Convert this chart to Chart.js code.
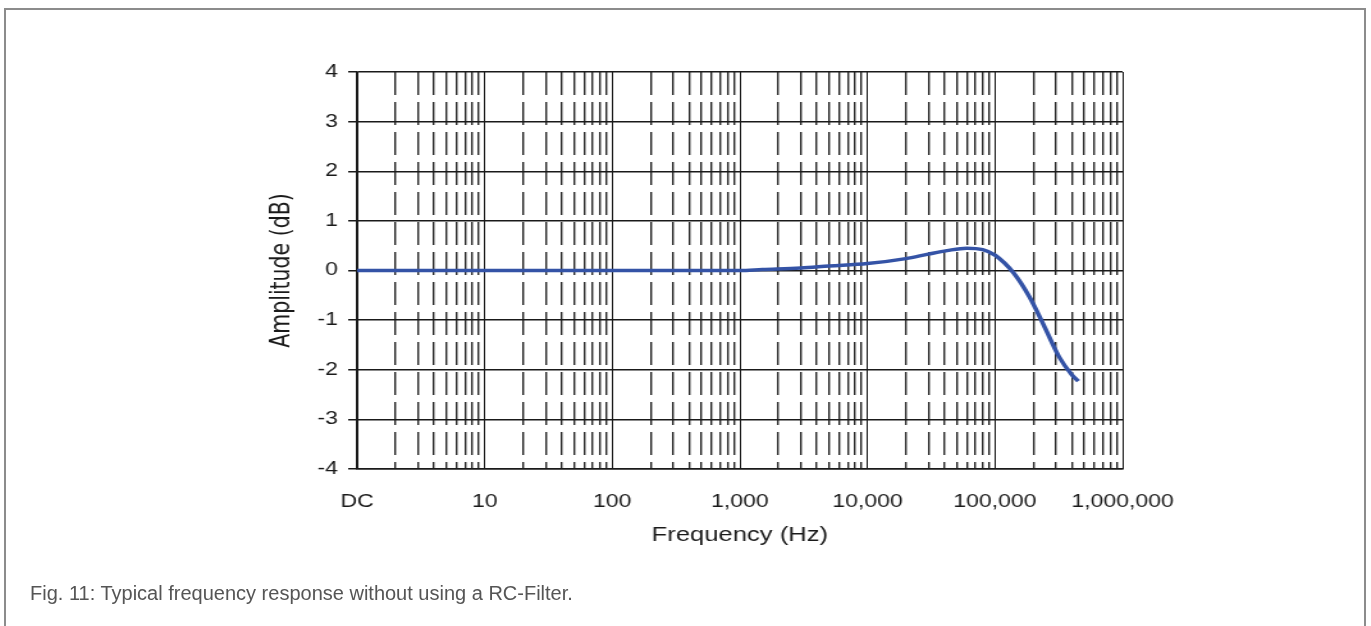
<!DOCTYPE html>
<html>
<head>
<meta charset="utf-8">
<script src="https://cdn.jsdelivr.net/npm/chart.js@4/dist/chart.umd.min.js"></script>
<style>
  body { margin: 0; background: #fff; width: 1371px; height: 626px; overflow: hidden; position: relative;
         font-family: "Liberation Sans", Arial, sans-serif; }
  #frame { position: absolute; left: 4px; top: 8px; width: 1358px; height: 640px;
           border: 2px solid #8c8c8c; border-bottom: none; }
  /* the original figure is stretched sideways, so the chart is too */
  #wrap { position: absolute; left: 0; top: 0; width: 1071px; height: 626px;
          transform: scaleX(1.28); transform-origin: 0 0; }
  #caption { position: absolute; left: 30px; top: 581px; font-size: 20px; line-height: 24px; color: #555; }
</style>
</head>
<body>
<div id="frame"></div>
<div id="wrap"><canvas id="freqChart" width="1071" height="626" style="width:1071px;height:626px"></canvas></div>
<div id="caption">Fig. 11: Typical frequency response without using a RC-Filter.</div>
<script>
// ---- data ----
var freqHz      = [1, 10, 100, 1000, 1500, 3000, 5000, 10000, 20000, 30000, 42000, 60000, 80000,
                   100000, 140000, 186000, 245000, 318000, 400000, 450000];
var amplitudeDb = [0, 0, 0, 0, 0.02, 0.05, 0.09, 0.14, 0.24, 0.33, 0.40, 0.45, 0.42,
                   0.31, -0.05, -0.53, -1.14, -1.74, -2.10, -2.23];

var decadeTicks  = [1, 10, 100, 1000, 10000, 100000, 1000000];
var decadeLabels = ["DC", "10", "100", "1,000", "10,000", "100,000", "1,000,000"];
var minorSteps   = [2, 3, 4, 5, 6, 7, 8, 9];
var yTicks       = [-4, -3, -2, -1, 0, 1, 2, 3, 4];

// minor grid positions 2..9 in every decade
var minorTicks = [];
decadeTicks.slice(0, -1).forEach(function (d) {
    minorSteps.forEach(function (m) { minorTicks.push(d * m); });
});

Chart.defaults.font.family = '"Liberation Sans", Arial, sans-serif';
Chart.defaults.color = '#1a1a1a';

var points = freqHz.map(function (f, i) { return { x: f, y: amplitudeDb[i] }; });

var freqChart = new Chart(document.getElementById("freqChart"), {
    type: 'line',
    data: {
        datasets: [{
            data: points,
            borderColor: '#3453a6',
            borderWidth: 3.5,
            pointRadius: 0,
            fill: false,
            cubicInterpolationMode: 'monotone',
            xAxisID: 'x',
            yAxisID: 'y'
        }]
    },
    options: {
        responsive: false,
        animation: false,
        layout: { padding: { left: 208, right: 194, top: 72, bottom: 77 } },
        plugins: { legend: { display: false }, tooltip: { enabled: false } },
        scales: {
            x: {
                type: 'logarithmic', position: 'bottom', weight: 1,
                min: 1, max: 1000000,
                afterBuildTicks: function (s) { s.ticks = decadeTicks.map(function (v) { return { value: v }; }); },
                afterFit: function (s) { s.height = 80; },
                grid: { color: '#1a1a1a', lineWidth: 1, drawTicks: false },
                border: { color: '#1a1a1a', width: 1.5 },
                ticks: {
                    autoSkip: false, maxRotation: 0, padding: 22, font: { size: 18 },
                    callback: function (v, i) { return decadeLabels[i]; }
                },
                title: { display: true, text: 'Frequency (Hz)', font: { size: 20 }, padding: { top: 0, bottom: 2 } }
            },
            xMinor: {
                type: 'logarithmic', position: 'bottom', weight: 0,
                min: 1, max: 1000000,
                afterBuildTicks: function (s) { s.ticks = minorTicks.map(function (v) { return { value: v }; }); },
                afterFit: function (s) { s.height = 0; },
                grid: { color: '#262626', lineWidth: 1.4, drawTicks: false },
                border: { display: false, dash: [23, 7] },
                ticks: { display: false }
            },
            y: {
                min: -4, max: 4,
                afterBuildTicks: function (s) { s.ticks = yTicks.map(function (v) { return { value: v }; }); },
                afterFit: function (s) { s.width = 71; },
                grid: { color: '#1a1a1a', lineWidth: 1.5, tickLength: 7 },
                border: { color: '#1a1a1a', width: 1.5 },
                ticks: { padding: 8, font: { size: 18 } },
                title: { display: true, text: 'Amplitude (dB)', font: { size: 20.5, family: '"DejaVu Sans", sans-serif' }, padding: 0 }
            }
        }
    }
});
</script>
</body>
</html>
